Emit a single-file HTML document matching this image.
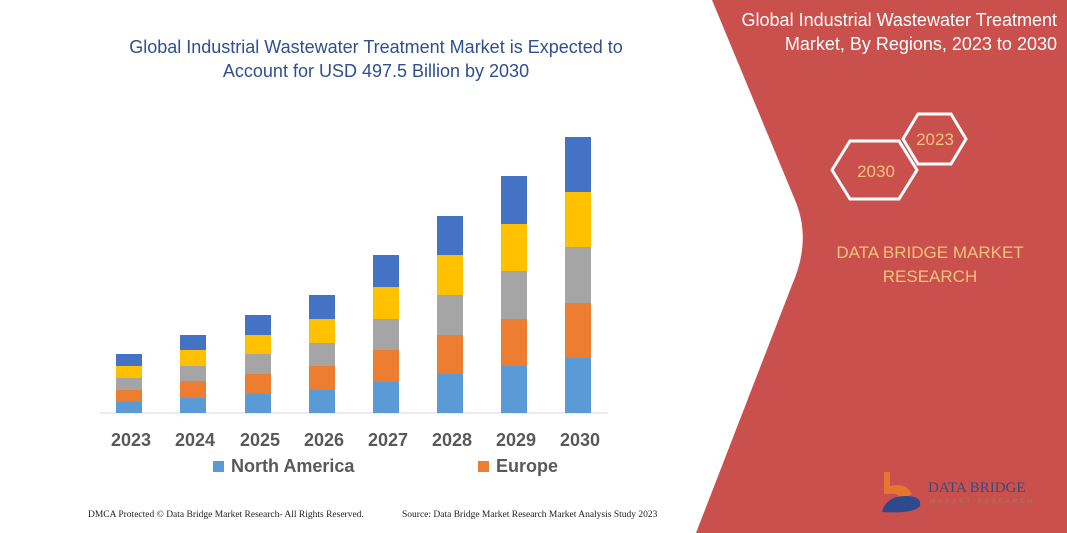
<!DOCTYPE html>
<html><head><style>
body{margin:0;width:1067px;height:533px;overflow:hidden;background:#fff;font-family:"Liberation Sans",sans-serif;position:relative}
.t{position:absolute;white-space:nowrap}
</style></head><body>
<svg width="1067" height="533" style="position:absolute;left:0;top:0">
<path d="M712,0 L1067,0 L1067,533 L696,533 L792,285 Q812,240 795,200 L712,0 Z" fill="#c9504c"/>
<g fill="none" stroke="#fff" stroke-width="3">
<polygon points="903,139 918,114 951,114 966,139 951,164 918,164"/>
<polygon points="832,170 850,141 899,141 917,170 899,199 850,199"/>
</g>
<text x="876" y="177" font-family="Liberation Sans" font-size="17" fill="#f6c27a" text-anchor="middle">2030</text>
<text x="935" y="145" font-family="Liberation Sans" font-size="17" fill="#f6c27a" text-anchor="middle">2023</text>
<line x1="100" y1="413" x2="608" y2="413" stroke="#d9d9d9" stroke-width="1"/>
<g id="bars"></g>
<path d="M884,472 l6,0 0,14 q16,-4 22,8 l-10,6 q-4,-8 -12,-6 l-6,0z" fill="#e5762f"/>
<path d="M882,512 q4,-16 24,-16 q16,0 14,10 q-6,8 -38,6z" fill="#2e4a8c"/>
<text x="928" y="492" font-family="Liberation Serif" font-size="15" fill="#3a4a7a">DATA BRIDGE</text>
<text x="930" y="503" font-family="Liberation Sans" font-size="6" fill="#aa7766" letter-spacing="3">MARKET RESEARCH</text>
</svg>
<div class="t" style="left:0;width:752px;top:35px;text-align:center;font-size:18px;line-height:24px;color:#2f4f8f">Global Industrial Wastewater Treatment Market is Expected to<br>Account for USD 497.5 Billion by 2030</div>
<div class="t" style="right:10px;top:8px;text-align:right;font-size:18px;line-height:24px;color:#fff">Global Industrial Wastewater Treatment<br>Market, By Regions, 2023 to 2030</div>
<div class="t" style="left:790px;width:280px;top:241px;text-align:center;font-size:17px;line-height:24px;color:#f6c27a">DATA BRIDGE MARKET<br>RESEARCH</div>
<div class="t" style="left:0;top:430px;font-size:18px;font-weight:bold;color:#595959;width:700px">
<span style="position:absolute;left:111px">2023</span><span style="position:absolute;left:175px">2024</span><span style="position:absolute;left:240px">2025</span><span style="position:absolute;left:304px">2026</span><span style="position:absolute;left:368px">2027</span><span style="position:absolute;left:432px">2028</span><span style="position:absolute;left:496px">2029</span><span style="position:absolute;left:560px">2030</span></div>
<div class="t" style="left:213px;top:461px;width:11px;height:11px;background:#5b9bd5"></div>
<div class="t" style="left:231px;top:456px;font-size:18px;font-weight:bold;color:#595959">North America</div>
<div class="t" style="left:478px;top:461px;width:11px;height:11px;background:#ed7d31"></div>
<div class="t" style="left:496px;top:456px;font-size:18px;font-weight:bold;color:#595959">Europe</div>
<div class="t" style="left:88px;top:510px;font-size:9.5px;font-family:'Liberation Serif',serif;color:#222">DMCA Protected © Data Bridge Market Research-  All Rights Reserved.</div>
<div class="t" style="left:402px;top:510px;font-size:9.5px;font-family:'Liberation Serif',serif;color:#222">Source: Data Bridge Market Research  Market Analysis Study 2023</div>
<script>
var d=[[116,354,366,378,390,402],[180,335,350,366,381,398],[245,315,335,354,374,394],[309,295,319,343,366,390],[373,255,287,319,350,382],[437,216,255,295,335,374],[501,176,224,271,319,366],[565,137,192,247,303,358]];
var c=["#4472c4","#ffc000","#a5a5a5","#ed7d31","#5b9bd5"];var s="";
d.forEach(function(b){var y=b.slice(1).concat([413]);for(var i=0;i<5;i++)s+='<rect x="'+b[0]+'" y="'+y[i]+'" width="26" height="'+(y[i+1]-y[i])+'" fill="'+c[i]+'"/>';});
document.getElementById("bars").innerHTML=s;
</script>
</body></html>
